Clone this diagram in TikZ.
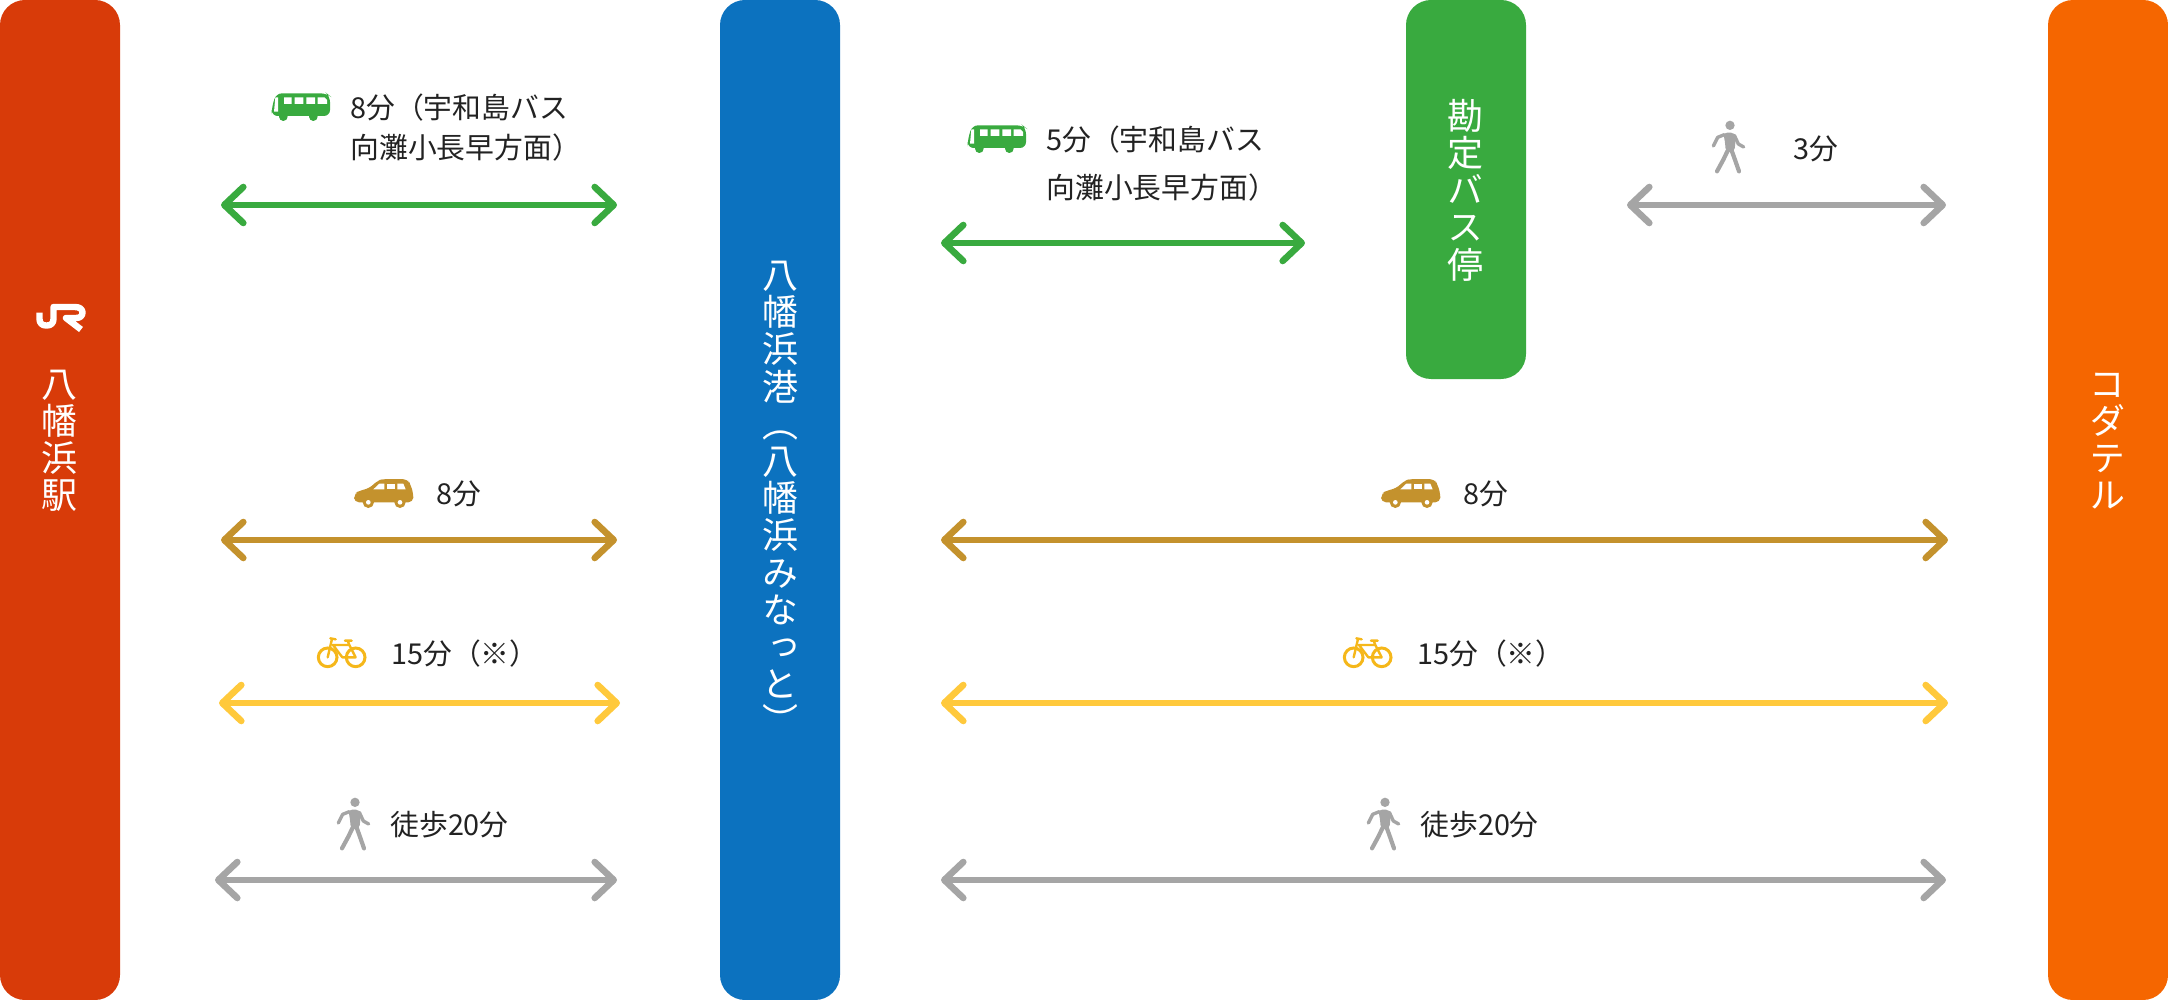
\documentclass[tikz,border=0pt]{standalone}
\usepackage{fontspec}
\usetikzlibrary{arrows.meta}
\setmainfont{Noto Sans CJK JP}
\newfontfamily\vtfont[RawFeature={+vert}]{Noto Sans CJK JP}
\definecolor{cRed}{HTML}{D83B09}
\definecolor{cBlue}{HTML}{0C72BF}
\definecolor{cGreen}{HTML}{39AA3F}
\definecolor{cOrange}{HTML}{F56600}
\definecolor{cGold}{HTML}{C4922D}
\definecolor{cYellow}{HTML}{FFC93C}
\definecolor{cBike}{HTML}{F5B71A}
\definecolor{cGray}{HTML}{A5A5A5}
\definecolor{cText}{HTML}{222222}
\tikzset{
  barbox/.style={rounded corners=12.5pt,minimum width=60pt,inner sep=0pt,draw=none},
  barlabel/.style={text=white,align=center,inner sep=0pt,font=\vtfont\fontsize{18}{18.6}\selectfont},
  timelabel/.style={text=cText,anchor=west,inner sep=0pt,font=\fontsize{14.4}{14.4}\selectfont},
  dbl/.style={line width=3.3pt,line cap=round,{Straight Barb[length=9.5pt,width=18pt,line width=3.3pt,round]}-{Straight Barb[length=9.5pt,width=18pt,line width=3.3pt,round]}},
  busicon/.pic={
    \fill[cGreen,rounded corners=3pt] (35,108)--(35,85)--(48,40)--(200,40)--(210,48)--(210,108)--cycle;
    \fill[cGreen] (70,110) circle (13) (160,110) circle (13);
    \fill[white] (46,52)--(54,52)--(54,95)--(42,95)--cycle;
    \fill[white] (72,52) rectangle (95,72) (104,52) rectangle (130,72) (139,52) rectangle (165,72);
    \fill[white] (173,52)--(193,52)--(201,60)--(201,72)--(173,72)--cycle;
  },
  caricon/.pic={
    \fill[cGold,rounded corners=2.5pt] (42,97)--(42,72)--(58,62)--(88,55)--(112,32)--(130,27)--(203,27)--(212,45)--(220,70)--(220,97)--cycle;
    \fill[white] (100,58)--(118,41)--(133,41)--(133,58)--cycle;
    \fill[white] (140,41)--(165,41)--(165,58)--(140,58)--cycle;
    \fill[white] (172,41)--(190,41)--(197,58)--(172,58)--cycle;
    \fill[cGold] (85,97) circle (17) (180,97) circle (17);
    \fill[white] (85,97) circle (7) (180,97) circle (7);
  },
  bikeicon/.pic={
    \draw[cBike,line width=1.5pt] (68,97) circle (28) (152,97) circle (28);
    \draw[cBike,line width=1.2pt,line cap=round,line join=round]
      (76,40)--(92,43) (81,42)--(68,97) (84,60)--(133,60)--(152,97)--(112,97)--(84,60)
      (120,47)--(140,47) (128,47)--(133,60);
  },
  walkicon/.pic={
    \fill[cGray] (105,52) circle (14);
    \fill[cGray,rounded corners=2pt] (84,74)--(120,74)--(122,95)--(118,132)--(92,132)--(90,100)--cycle;
    \draw[cGray,line width=1.7pt,line cap=round,line join=round] (88,80)--(68,88)--(55,114) (118,82)--(130,108)--(146,117);
    \draw[cGray,line width=2.1pt,line cap=round,line join=round] (98,128)--(85,155)--(66,190) (110,128)--(118,150)--(132,190);
  },
}
\begin{document}
\begin{tikzpicture}[x=0.5pt,y=-0.5pt]
\useasboundingbox (0,0) rectangle (2168,1000);
% bars
\node[barbox,fill=cRed,minimum height=500pt] (jr) at (60,500) {};
\node[barbox,fill=cBlue,minimum height=500pt] (port) at (780,500) {};
\node[barbox,fill=cGreen,minimum height=189.5pt] (stop) at (1466,189.5) {};
\node[barbox,fill=cOrange,minimum height=500pt] (hotel) at (2108,500) {};
\node[barlabel] (jrlabel) at (59,441) {八\\幡\\浜\\駅};
\node[barlabel] (portlabel) at (780,498) {八\\幡\\浜\\港\\（\\八\\幡\\浜\\み\\な\\っ\\と\\）};
\node[barlabel] (stoplabel) at (1465,190) {勘\\定\\バ\\ス\\停};
\node[barlabel] (hotellabel) at (2107,441) {コ\\ダ\\テ\\ル};
% JR logo
\draw[white,line width=3.2pt,line join=round]
  (39.5,312.5)--(39.5,319) .. controls (39.5,323) and (42,325.5) .. (46,325.5)
  --(47,325.5) .. controls (51,325.5) and (53.5,323) .. (53.5,319)--(53.5,307)
  --(75,307) .. controls (80,307) and (82.5,309.5) .. (82.5,312.5)
  .. controls (82.5,316) and (80,318) .. (76,318)--(66,318)--(81,329.5);
% arrows: left span
\coordinate (a1l) at (221,205); \coordinate (a1r) at (617,205);
\coordinate (a2l) at (221,540); \coordinate (a2r) at (617,540);
\coordinate (a3l) at (219,703); \coordinate (a3r) at (620,703);
\coordinate (a4l) at (215,880); \coordinate (a4r) at (617,880);
\coordinate (b1l) at (941,243); \coordinate (b1r) at (1305,243);
\coordinate (b2l) at (1627,205); \coordinate (b2r) at (1946,205);
\coordinate (b3l) at (941,540); \coordinate (b3r) at (1948,540);
\coordinate (b4l) at (941,703); \coordinate (b4r) at (1948,703);
\coordinate (b5l) at (941,880); \coordinate (b5r) at (1946,880);
\draw[dbl,cGreen] (a1l)--(a1r);
\draw[dbl,cGold] (a2l)--(a2r);
\draw[dbl,cYellow] (a3l)--(a3r);
\draw[dbl,cGray] (a4l)--(a4r);
\draw[dbl,cGreen] (b1l)--(b1r);
\draw[dbl,cGray] (b2l)--(b2r);
\draw[dbl,cGold] (b3l)--(b3r);
\draw[dbl,cYellow] (b4l)--(b4r);
\draw[dbl,cGray] (b5l)--(b5r);
% icons
\pic[scale=1/3] at (260,80) {busicon};
\pic[scale=1/3] at (956,112) {busicon};
\pic[scale=1/3] at (340,470) {caricon};
\pic[scale=1/3] at (1367,470) {caricon};
\pic[scale=1/3] at (305,625) {bikeicon};
\pic[scale=1/3] at (1331,625) {bikeicon};
\pic[scale=1/3] at (320,785) {walkicon};
\pic[scale=1/3] at (1350,785) {walkicon};
\pic[scale=1/3] at (1695,108) {walkicon};
% labels
\node[timelabel] (t1) at (350,108) {8分（宇和島バス};
\node[timelabel] (t1b) at (350,148) {向灘小長早方面）};
\node[timelabel] (t2) at (436,494) {8分};
\node[timelabel] (t3) at (391,654) {15分（※）};
\node[timelabel] (t4) at (390,825) {徒歩20分};
\node[timelabel] (t5) at (1046,140) {5分（宇和島バス};
\node[timelabel] (t5b) at (1046,188) {向灘小長早方面）};
\node[timelabel] (t6) at (1793,149) {3分};
\node[timelabel] (t7) at (1463,494) {8分};
\node[timelabel] (t8) at (1417,654) {15分（※）};
\node[timelabel] (t9) at (1420,825) {徒歩20分};
\end{tikzpicture}
\end{document}
